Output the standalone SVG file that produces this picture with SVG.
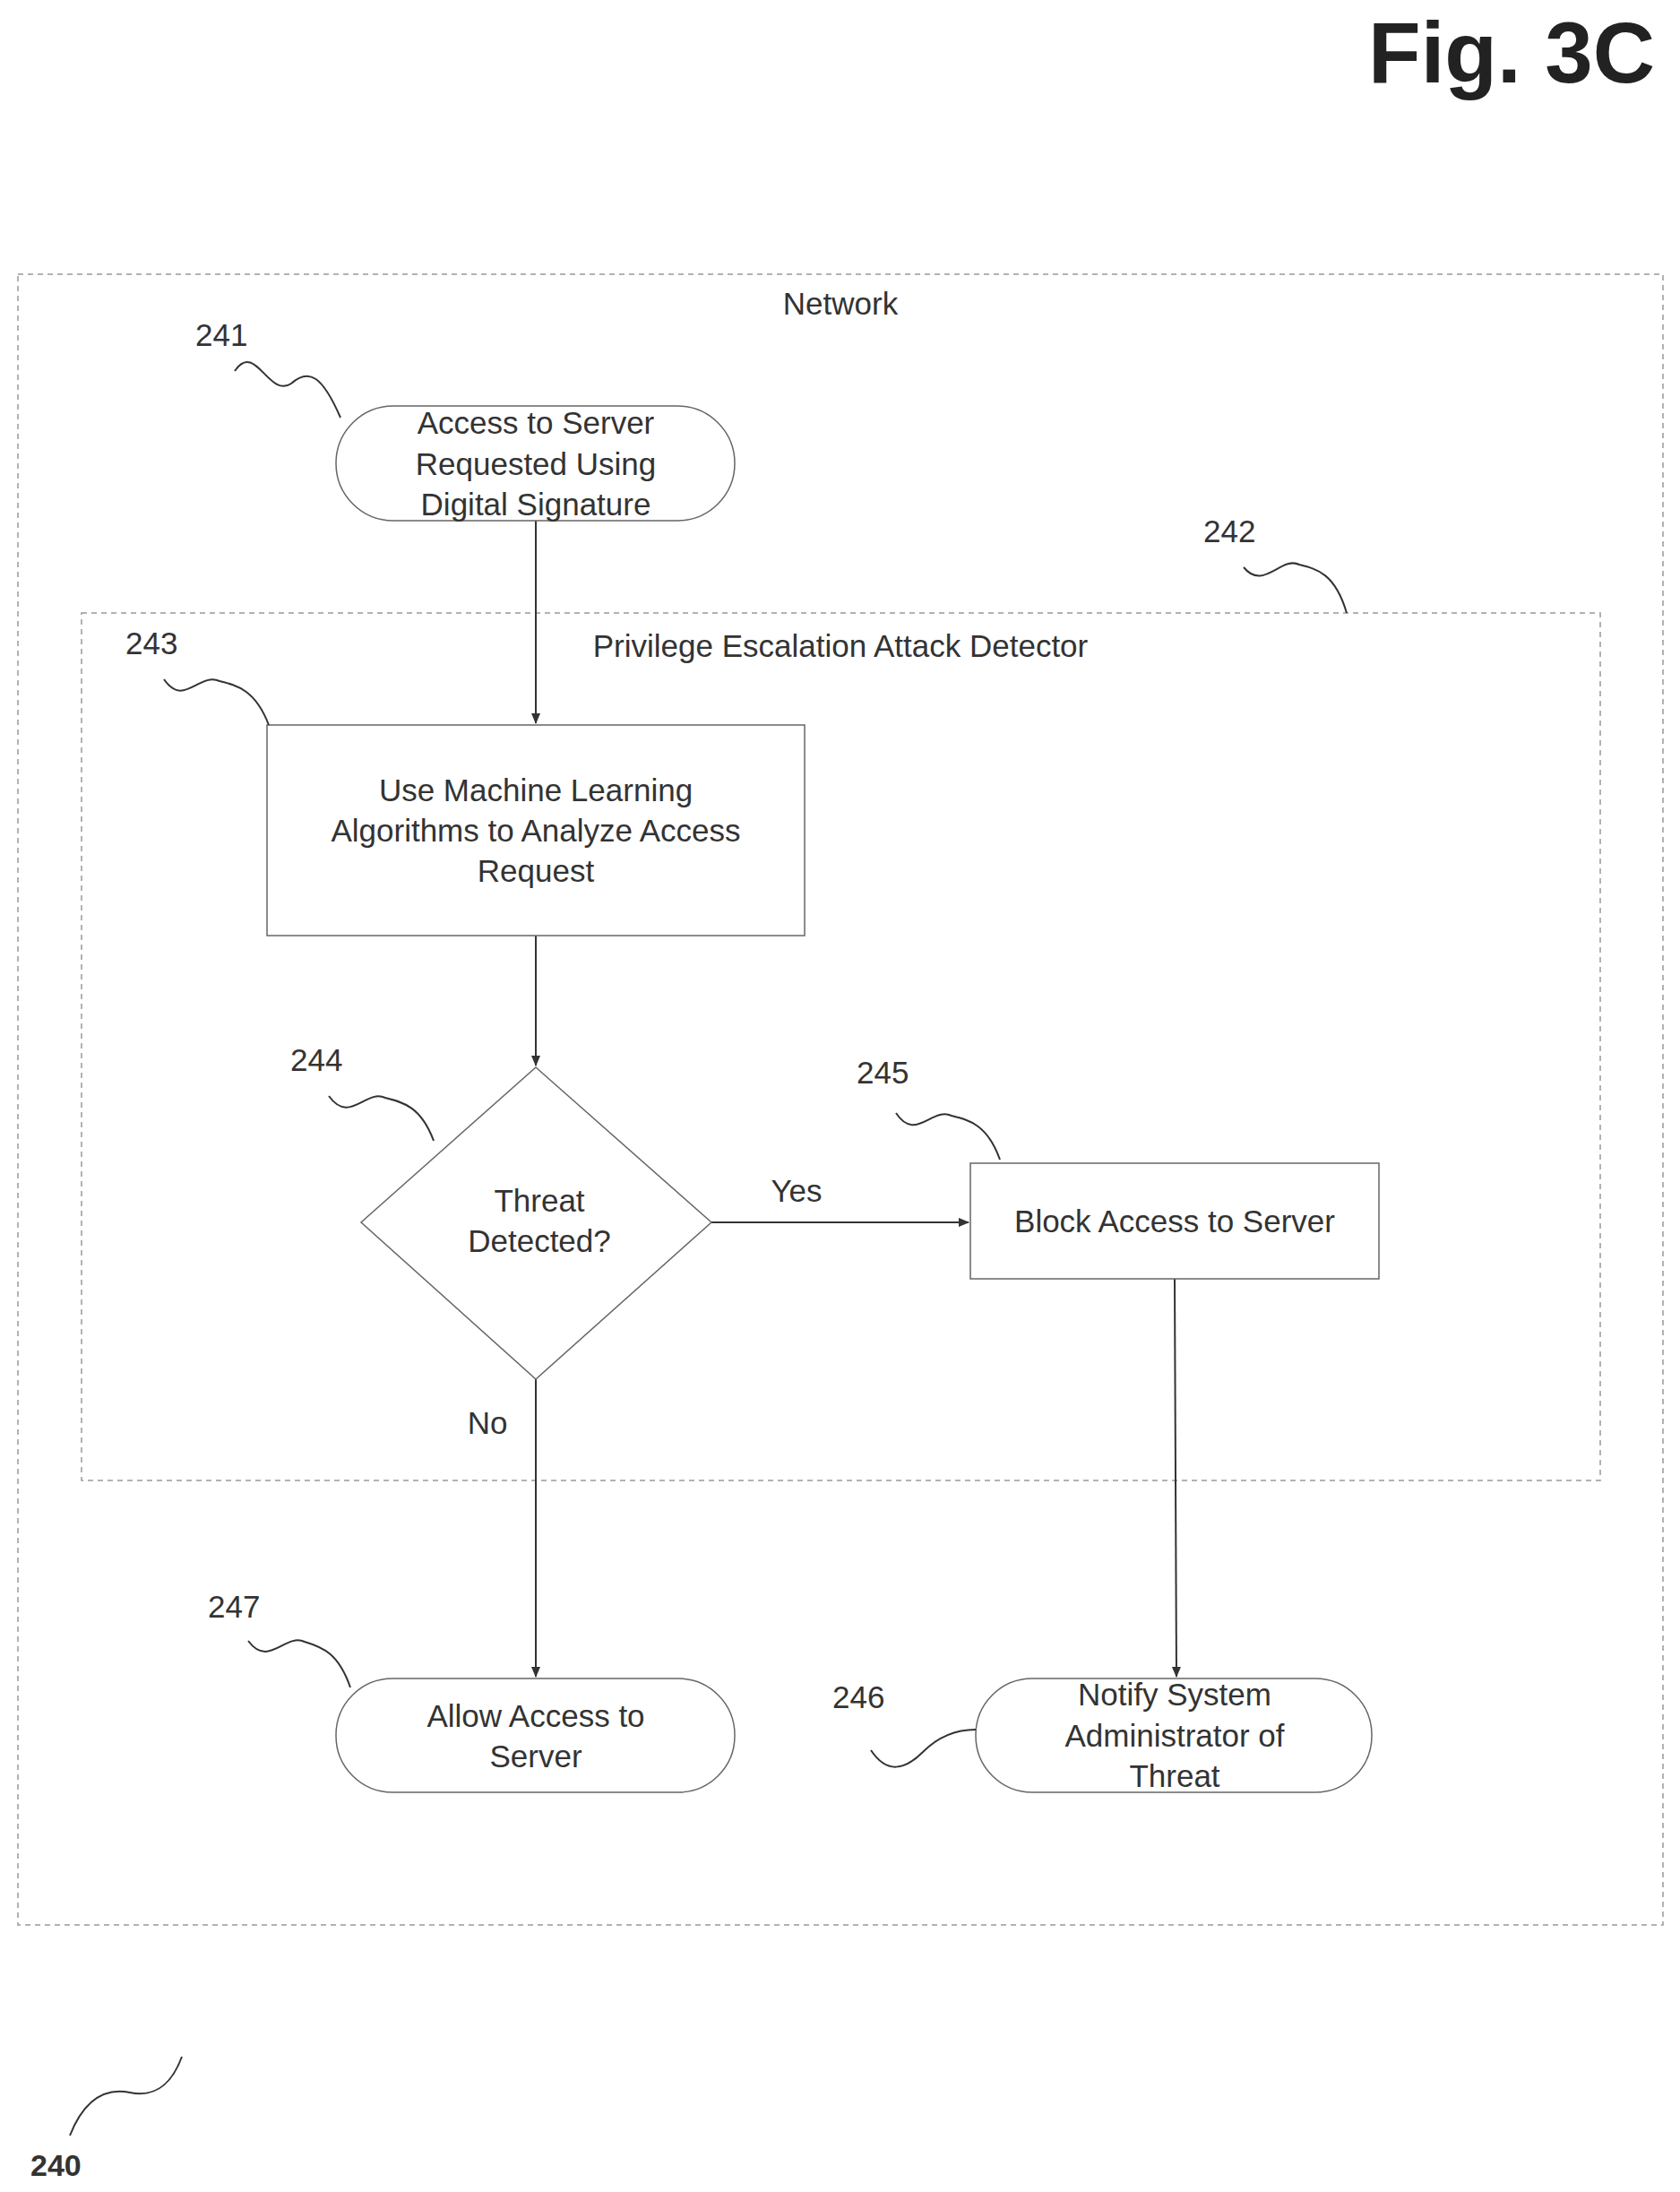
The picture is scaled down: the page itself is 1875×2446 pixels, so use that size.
<svg xmlns="http://www.w3.org/2000/svg" width="1875" height="2446" viewBox="0 0 1875 2446">
<style>
text{font-family:"Liberation Sans",Arial,sans-serif;fill:#333;font-size:35px;text-anchor:middle}
.lbl{text-anchor:start}
.dash{fill:none;stroke:#999;stroke-width:1.5;stroke-dasharray:6 5}
.shape{fill:#fff;stroke:#666;stroke-width:1.5}
.sq{fill:none;stroke:#333;stroke-width:2}
.ln{stroke:#333;stroke-width:2;fill:none;marker-end:url(#ah)}
</style>
<defs><marker id="ah" markerWidth="12" markerHeight="12" refX="11" refY="6" orient="auto" markerUnits="userSpaceOnUse"><path d="M0,1 L12,6 L0,11 Z" fill="#333"/></marker></defs>
<rect width="1875" height="2446" fill="#fff"/>
<text x="1847" y="92" style="font-size:96px;font-weight:bold;text-anchor:end;fill:#222">Fig. 3C</text>
<g id="network"><rect class="dash" x="20" y="306" width="1836" height="1842"/><text x="938" y="351">Network</text></g>
<g id="detector"><rect class="dash" x="91" y="684" width="1695" height="968"/><text x="938" y="733">Privilege Escalation Attack Detector</text></g>
<g id="connectors">
<line class="ln" x1="598" y1="581" x2="598" y2="807"/>
<line class="ln" x1="598" y1="1044" x2="598" y2="1189"/>
<line class="ln" x1="794" y1="1364" x2="1081" y2="1364"/>
<line class="ln" x1="598" y1="1539" x2="598" y2="1871"/>
<line class="ln" x1="1311" y1="1427" x2="1313" y2="1871"/>
<text x="889" y="1341">Yes</text><text x="544" y="1600">No</text>
</g>
<g id="n241"><rect class="shape" x="375" y="453" width="445" height="128" rx="64"/><text x="598" y="484">Access to Server</text><text x="598" y="530">Requested Using</text><text x="598" y="575">Digital Signature</text></g>
<g id="n243"><rect class="shape" x="298" y="809" width="600" height="235"/><text x="598" y="894">Use Machine Learning</text><text x="598" y="939">Algorithms to Analyze Access</text><text x="598" y="984">Request</text></g>
<g id="n244"><polygon class="shape" points="598,1191 794,1364 598,1539 403,1364"/><text x="602" y="1352">Threat</text><text x="602" y="1397">Detected?</text></g>
<g id="n245"><rect class="shape" x="1083" y="1298" width="456" height="129"/><text x="1311" y="1375">Block Access to Server</text></g>
<g id="n247"><rect class="shape" x="375" y="1873" width="445" height="127" rx="63"/><text x="598" y="1927">Allow Access to</text><text x="598" y="1972">Server</text></g>
<g id="n246"><rect class="shape" x="1089" y="1873" width="442" height="127" rx="63"/><text x="1311" y="1903">Notify System</text><text x="1311" y="1949">Administrator of</text><text x="1311" y="1994">Threat</text></g>
<g id="refs">
<text class="lbl" x="218" y="386">241</text><path class="sq" d="M262,414 C285,380 300,445 325,428 C345,410 360,420 380,466"/>
<text class="lbl" x="1343" y="605">242</text><path class="sq" d="M1388,633 C1410,660 1430,620 1450,630 C1470,635 1490,640 1503,684"/>
<text class="lbl" x="140" y="730">243</text><path class="sq" d="M183,758 C205,790 222,750 245,760 C265,765 285,770 300,809"/>
<text class="lbl" x="324" y="1195">244</text><path class="sq" d="M367,1223 C390,1255 408,1215 430,1225 C450,1230 470,1235 484,1273"/>
<text class="lbl" x="956" y="1209">245</text><path class="sq" d="M1000,1242 C1022,1275 1040,1235 1062,1245 C1082,1250 1102,1255 1116,1294"/>
<text class="lbl" x="232" y="1805">247</text><path class="sq" d="M277,1831 C300,1862 318,1822 340,1832 C360,1838 378,1845 391,1883"/>
<text class="lbl" x="929" y="1906">246</text><path class="sq" d="M972,1953 C990,1980 1010,1975 1030,1955 C1050,1935 1070,1930 1089,1930"/>
<text class="lbl" x="34" y="2428" style="font-weight:bold;font-size:34px">240</text><path class="sq" d="M78,2383 C95,2340 120,2330 145,2335 C170,2340 190,2330 203,2295"/>
</g>
</svg>
